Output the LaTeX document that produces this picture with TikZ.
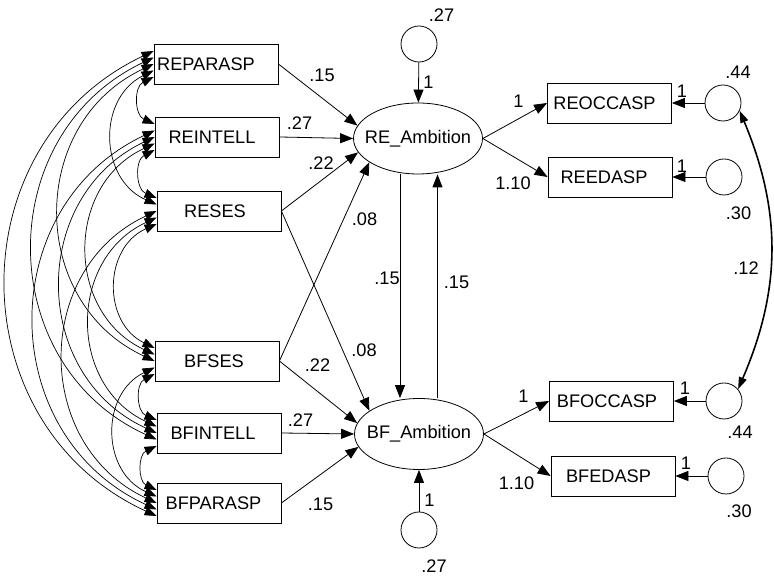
\documentclass[tikz,border=0pt]{standalone}
\usepackage{fontspec}
\setmainfont{Liberation Sans}
\usetikzlibrary{arrows.meta,shapes.geometric}

\begin{document}
\begin{tikzpicture}[x=1pt,y=1pt,
  every node/.style={font=\fontsize{18.2}{20}\selectfont},
  obs/.style={draw, rectangle, minimum width=124pt, minimum height=40pt, inner sep=0pt, line width=0.8pt},
  lat/.style={draw, ellipse, minimum width=129pt, minimum height=71pt, inner sep=0pt, line width=0.8pt},
  err/.style={draw, circle, minimum size=36pt, inner sep=0pt, line width=0.8pt},
  reg/.style={-{Triangle[length=13pt,width=10pt]}, line width=0.8pt},
  cov/.style={{Triangle[length=12pt,width=9pt]}-{Triangle[length=12pt,width=9pt]}, line width=0.7pt, bend right=65, looseness=1.2},
  ecov/.style={{Triangle[length=12pt,width=8pt]}-{Triangle[length=12pt,width=8pt]}, line width=1.6pt},
  lbl/.style={inner sep=0pt}
]
\useasboundingbox (0,0) rectangle (774,577);
\fill[white] (0,0) rectangle (774,577);

% exogenous observed variables
\node[obs] (REPARASP) at (216,513) {REPARASP\hspace*{20pt}};
\node[obs] (REINTELL) at (217,440) {REINTELL\hspace*{10pt}};
\node[obs] (RESES)    at (219,366) {RESES\hspace*{8pt}};
\node[obs] (BFSES)    at (217,216) {BFSES\hspace*{6pt}};
\node[obs] (BFINTELL) at (219,144) {BFINTELL\hspace*{12pt}};
\node[obs] (BFPARASP) at (219,74)  {BFPARASP\hspace*{11pt}};

% indicators
\node[obs] (REOCCASP) at (609.5,474) {REOCCASP\hspace*{10pt}};
\node[obs] (REEDASP)  at (610,400)   {REEDASP\hspace*{12pt}};
\node[obs] (BFOCCASP) at (611.5,176) {BFOCCASP\hspace*{9pt}};
\node[obs] (BFEDASP)  at (613,101)   {BFEDASP\hspace*{9pt}};

% latent variables (zero-width text keeps the ellipse at its set size)
\node[lat] (RE) at (418,438.5) {\makebox[0pt]{RE\_Ambition}};
\node[lat] (BF) at (419,143)   {\makebox[0pt]{BF\_Ambition}};

% disturbances and measurement errors
\node[err] (eRE)    at (419,533) {};
\node[err] (eBF)    at (419,47)  {};
\node[err] (eREOCC) at (723,474) {};
\node[err] (eREED)  at (724,400) {};
\node[err] (eBFOCC) at (724,176) {};
\node[err] (eBFED)  at (726,101) {};

% structural paths
\draw[reg] (REPARASP.east) -- (RE.168);
\draw[reg] (REINTELL.east) -- (RE.180);
\draw[reg] (RESES.east)    -- (RE.193);
\draw[reg] (BFSES.east)    -- (RE.206);
\draw[reg] (RESES.east)    -- (BF.155);
\draw[reg] (BFSES.east)    -- (BF.170);
\draw[reg] (BFINTELL.east) -- (BF.180);
\draw[reg] (BFPARASP.east) -- (BF.192);
\draw[reg] ([xshift=-18pt]RE.south) -- ([xshift=-19pt]BF.north);
\draw[reg] ([xshift=18.5pt]BF.north) -- ([xshift=19.5pt]RE.south);
\draw[reg] (eRE) -- (RE);
\draw[reg] (eBF) -- (BF);

% measurement paths
\draw[reg] (RE.east) -- (REOCCASP.west);
\draw[reg] (RE.east) -- (REEDASP.west);
\draw[reg] (BF.east) -- (BFOCCASP.west);
\draw[reg] (BF.east) -- (BFEDASP.west);
\draw[reg] (eREOCC) -- (REOCCASP);
\draw[reg] (eREED)  -- (REEDASP);
\draw[reg] (eBFOCC) -- (BFOCCASP);
\draw[reg] (eBFED)  -- (BFEDASP);

% correlated errors
\draw[ecov] (eREOCC.335) to[bend left=23] (eBFOCC.40);

% covariances among exogenous variables
\draw[cov] ([yshift=-13pt]REPARASP.west) to ([yshift=13pt]REINTELL.west);
\draw[cov] ([yshift=-6.5pt]REPARASP.west) to ([yshift=6.5pt]RESES.west);
\draw[cov] (REPARASP.west) to (BFSES.west);
\draw[cov] ([yshift=6.5pt]REPARASP.west) to ([yshift=-6.5pt]BFINTELL.west);
\draw[cov] ([yshift=13pt]REPARASP.west) to ([yshift=-13pt]BFPARASP.west);
\draw[cov] ([yshift=-13pt]REINTELL.west) to ([yshift=13pt]RESES.west);
\draw[cov] ([yshift=-6.5pt]REINTELL.west) to ([yshift=6.5pt]BFSES.west);
\draw[cov] (REINTELL.west) to (BFINTELL.west);
\draw[cov] ([yshift=6.5pt]REINTELL.west) to ([yshift=-6.5pt]BFPARASP.west);
\draw[cov] ([yshift=-13pt]RESES.west) to ([yshift=13pt]BFSES.west);
\draw[cov] ([yshift=-6.5pt]RESES.west) to ([yshift=6.5pt]BFINTELL.west);
\draw[cov] (RESES.west) to (BFPARASP.west);
\draw[cov] ([yshift=-13pt]BFSES.west) to ([yshift=13pt]BFINTELL.west);
\draw[cov] ([yshift=-6.5pt]BFSES.west) to ([yshift=6.5pt]BFPARASP.west);
\draw[cov] ([yshift=-13pt]BFINTELL.west) to ([yshift=13pt]BFPARASP.west);

% estimates
\node[lbl] (vRE)    at (441.5,562) {.27};
\node[lbl] (wRE)    at (428.5,495) {1};
\node[lbl] (vBF)    at (434,10.5)  {.27};
\node[lbl] (wBF)    at (429.5,77)  {1};
\node[lbl] (vREOCC) at (738,505)   {.44};
\node[lbl] (vREED)  at (738.5,364) {.30};
\node[lbl] (wREOCC) at (682,486)   {1};
\node[lbl] (wREED)  at (682,411)   {1};
\node[lbl] (vBFOCC) at (740,145)   {.44};
\node[lbl] (vBFED)  at (739,66)    {.30};
\node[lbl] (wBFOCC) at (685,189)   {1};
\node[lbl] (wBFED)  at (686,114)   {1};
\node[lbl] (b1) at (322,502)     {.15};
\node[lbl] (b2) at (299.5,453.5) {.27};
\node[lbl] (b3) at (321,413.5)   {.22};
\node[lbl] (b4) at (364.5,358)   {.08};
\node[lbl] (b5) at (364,227)     {.08};
\node[lbl] (b6) at (317.5,212)   {.22};
\node[lbl] (b7) at (300.5,157)   {.27};
\node[lbl] (b8) at (320.5,73)    {.15};
\node[lbl] (b9) at (387,298.5)   {.15};
\node[lbl] (b10) at (456.5,295)  {.15};
\node[lbl] (m1) at (518.5,476)   {1};
\node[lbl] (m2) at (513,393.5)   {1.10};
\node[lbl] (m3) at (523.5,180.5) {1};
\node[lbl] (m4) at (516.5,93.5)  {1.10};
\node[lbl] (c1) at (746,308.5)   {.12};
\end{tikzpicture}
\end{document}
